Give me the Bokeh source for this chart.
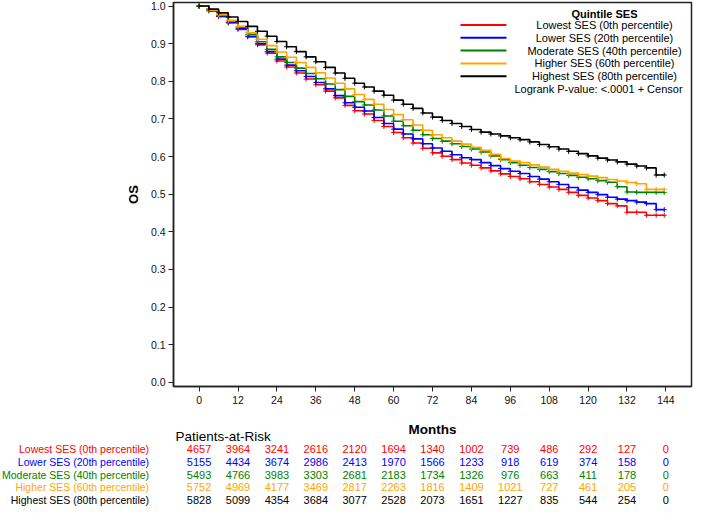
from bokeh.plotting import figure
from bokeh.layouts import column
from bokeh.models import Range1d, FixedTicker, PrintfTickFormatter
from bokeh.core.properties import value
from bokeh.embed import file_html
from bokeh.resources import INLINE

# ---------------- data ----------------
months = [0, 3, 6, 9, 12, 15, 18, 21, 24, 27, 30, 33, 36, 39, 42, 45, 48, 51, 54, 57,
          60, 63, 66, 69, 72, 75, 78, 81, 84, 87, 90, 93, 96, 99, 102, 105, 108, 111, 114, 117,
          120, 123, 126, 129, 132, 135, 138, 141, 143.5]

os_lowest = [1.000, 0.987, 0.972, 0.955, 0.938, 0.918, 0.897, 0.875, 0.854, 0.838,
             0.822, 0.806, 0.791, 0.774, 0.756, 0.736, 0.722, 0.713, 0.696, 0.680,
             0.664, 0.650, 0.636, 0.622, 0.610, 0.601, 0.592, 0.583, 0.577, 0.570,
             0.562, 0.554, 0.547, 0.541, 0.533, 0.526, 0.519, 0.513, 0.505, 0.497,
             0.490, 0.483, 0.475, 0.469, 0.452, 0.452, 0.444, 0.444, 0.444]
os_lower = [1.000, 0.988, 0.973, 0.957, 0.940, 0.920, 0.900, 0.879, 0.859, 0.843,
            0.828, 0.813, 0.797, 0.780, 0.762, 0.743, 0.731, 0.721, 0.704, 0.688,
            0.673, 0.660, 0.647, 0.634, 0.623, 0.614, 0.605, 0.597, 0.592, 0.584,
            0.576, 0.568, 0.561, 0.555, 0.547, 0.540, 0.533, 0.526, 0.518, 0.511,
            0.505, 0.499, 0.492, 0.487, 0.483, 0.479, 0.475, 0.459, 0.459]
os_moderate = [1.000, 0.989, 0.975, 0.961, 0.944, 0.925, 0.905, 0.885, 0.865, 0.850,
               0.835, 0.821, 0.807, 0.793, 0.778, 0.760, 0.746, 0.737, 0.724, 0.708,
               0.694, 0.682, 0.670, 0.658, 0.648, 0.641, 0.634, 0.627, 0.620, 0.612,
               0.602, 0.592, 0.584, 0.577, 0.571, 0.566, 0.560, 0.555, 0.550, 0.545,
               0.541, 0.536, 0.532, 0.520, 0.506, 0.505, 0.505, 0.505, 0.505]
os_higher = [1.000, 0.989, 0.977, 0.962, 0.946, 0.929, 0.912, 0.895, 0.878, 0.864,
             0.850, 0.837, 0.823, 0.809, 0.795, 0.780, 0.765, 0.752, 0.739, 0.725,
             0.712, 0.698, 0.684, 0.670, 0.658, 0.650, 0.641, 0.633, 0.625, 0.617,
             0.606, 0.595, 0.588, 0.584, 0.578, 0.572, 0.566, 0.561, 0.556, 0.552,
             0.548, 0.544, 0.539, 0.535, 0.531, 0.528, 0.513, 0.513, 0.513]
os_highest = [1.000, 0.992, 0.982, 0.971, 0.959, 0.946, 0.933, 0.920, 0.906, 0.892,
              0.879, 0.865, 0.852, 0.837, 0.822, 0.808, 0.795, 0.785, 0.774, 0.763,
              0.750, 0.739, 0.728, 0.716, 0.705, 0.696, 0.688, 0.680, 0.672, 0.665,
              0.660, 0.655, 0.650, 0.645, 0.639, 0.632, 0.626, 0.620, 0.614, 0.608,
              0.602, 0.596, 0.591, 0.586, 0.580, 0.575, 0.570, 0.551, 0.551]

x_ticks = [0, 12, 24, 36, 48, 60, 72, 84, 96, 108, 120, 132, 144]
y_ticks = [0.0, 0.1, 0.2, 0.3, 0.4, 0.5, 0.6, 0.7, 0.8, 0.9, 1.0]

risk_lowest = [4657, 3964, 3241, 2616, 2120, 1694, 1340, 1002, 739, 486, 292, 127, 0]
risk_lower = [5155, 4434, 3674, 2986, 2413, 1970, 1566, 1233, 918, 619, 374, 158, 0]
risk_moderate = [5493, 4766, 3983, 3303, 2681, 2183, 1734, 1326, 976, 663, 411, 178, 0]
risk_higher = [5752, 4969, 4177, 3469, 2817, 2263, 1816, 1409, 1021, 727, 461, 205, 0]
risk_highest = [5828, 5099, 4354, 3684, 3077, 2528, 2073, 1651, 1227, 835, 544, 254, 0]

group_labels = ["Lowest SES (0th percentile)", "Lower SES (20th percentile)",
                "Moderate SES (40th percentile)", "Higher SES (60th percentile)",
                "Highest SES (80th percentile)"]
colors = ["#FF0000", "#0000FF", "#008000", "#FFA500", "#000000"]
legend_title = "Quintile SES"
logrank_text = "Logrank P-value: <.0001 + Censor"
x_label = "Months"
y_label = "OS"
table_title = "Patients-at-Risk"

series = [os_lowest, os_lower, os_moderate, os_higher, os_highest]
risks = [risk_lowest, risk_lower, risk_moderate, risk_higher, risk_highest]

# ---------------- layout ----------------
FONT = "Liberation Sans"
W = 693
FL, FR, FT, FB = 173, 691, 2, 386
MAIN_H = 416
TABLE_H = 506 - MAIN_H
X0, X1 = -7.9, 151.9
Y0, Y1 = -0.011, 1.0095

def mx(px):
    return X0 + (px - FL) / (FR - FL) * (X1 - X0)

def my(py):
    return Y1 - (py - FT) / (FB - FT) * (Y1 - Y0)

p = figure(width=W, height=MAIN_H, x_range=Range1d(X0, X1), y_range=Range1d(Y0, Y1),
           output_backend="svg", toolbar_location=None, title=None,
           min_border_left=FL, min_border_right=W - FR, min_border_top=FT,
           min_border_bottom=MAIN_H - FB)
p.frame_align = False
p.background_fill_color = "white"
p.border_fill_color = "white"
p.outline_line_color = "#222222"
p.outline_line_width = 1.5
p.xgrid.visible = False
p.ygrid.visible = False

p.xaxis.ticker = FixedTicker(ticks=x_ticks)
p.yaxis.ticker = FixedTicker(ticks=y_ticks)
p.yaxis.formatter = PrintfTickFormatter(format="%.1f")
for ax in (p.xaxis[0], p.yaxis[0]):
    ax.axis_line_color = "#222222"
    ax.axis_line_width = 1.5
    ax.major_tick_line_color = "#222222"
    ax.major_tick_line_width = 1
    ax.major_tick_out = 5
    ax.major_tick_in = 0
    ax.minor_tick_out = 0
    ax.minor_tick_in = 0
    ax.major_label_text_font = FONT
    ax.major_label_text_font_size = "10.5px"
    ax.major_label_text_color = "#111111"
p.xaxis.major_label_standoff = 4
p.yaxis.major_label_standoff = 3
p.yaxis.axis_label = y_label
p.yaxis.axis_label_text_font = FONT
p.yaxis.axis_label_text_font_style = "bold"
p.yaxis.axis_label_text_font_size = "13px"
p.yaxis.axis_label_text_color = "black"
p.yaxis.axis_label_standoff = 7

for vals, c in zip(series, colors):
    p.step(months, vals, mode="after", line_color=c, line_width=1.6)
    p.scatter(months, vals, marker="cross", size=5, line_color=c, line_width=1)

# legend (drawn by hand so texts are centred like the original)
LEG_TXT_X = FL + 431
SW0, SW1 = FL + 287, FL + 333
row_py = [FT + 22.5 + 12.8 * i for i in range(5)]
p.text(x=[mx(LEG_TXT_X)], y=[my(FT + 11)], text=[legend_title], text_align="center",
       text_baseline="middle", text_font=value(FONT), text_font_style="bold",
       text_font_size="11px", text_color="black")
p.segment(x0=[mx(SW0)] * 5, y0=[my(v) for v in row_py], x1=[mx(SW1)] * 5,
          y1=[my(v) for v in row_py], line_color=colors, line_width=2)
p.text(x=[mx(LEG_TXT_X)] * 5, y=[my(v) for v in row_py], text=group_labels,
       text_align="center", text_baseline="middle", text_font=value(FONT),
       text_font_size="11px", text_color="black")
p.text(x=[mx(FL + 425)], y=[my(FT + 22.5 + 12.8 * 5)], text=[logrank_text],
       text_align="center", text_baseline="middle", text_font=value(FONT),
       text_font_size="11px", text_color="black")

# ---------------- at-risk table ----------------
k = (FR - FL) / (X1 - X0)
TX0 = X0 - FL / k
TX1 = X0 + (W - FL) / k
ROW = 12.7
YT = -1 - 20 / ROW
t = figure(width=W, height=TABLE_H, x_range=Range1d(TX0, TX1),
           y_range=Range1d(YT + TABLE_H / ROW, YT), min_border=0,
           output_backend="svg", toolbar_location=None, title=None)
t.frame_align = False
t.axis.visible = False
t.grid.visible = False
t.outline_line_color = None
t.background_fill_color = "white"
t.border_fill_color = "white"

t.text(x=[(x_ticks[0] + x_ticks[-1]) / 2], y=[YT + 13 / ROW], text=[x_label],
       text_align="center", text_baseline="middle", text_font=value(FONT),
       text_font_style="bold", text_font_size="13.5px", text_color="black")
t.text(x=[x_ticks[0]], y=[-1], text=[table_title], x_offset=24, text_align="center",
       text_baseline="middle", text_font=value(FONT), text_font_size="13.5px",
       text_color="black")
for i, (r, c) in enumerate(zip(risks, colors)):
    t.text(x=x_ticks, y=[i] * len(x_ticks), text=[str(v) for v in r],
           text_align="center", text_baseline="middle", text_font=value(FONT),
           text_font_size="11px", text_color=c)
t.text(x=[x_ticks[0]] * 5, y=list(range(5)), text=group_labels, x_offset=-50,
       text_align="right", text_baseline="middle", text_font=value(FONT),
       text_font_size="10.5px", text_color=colors)

layout = column(p, t, spacing=0)
open("out.html", "w").write(file_html(layout, INLINE))
